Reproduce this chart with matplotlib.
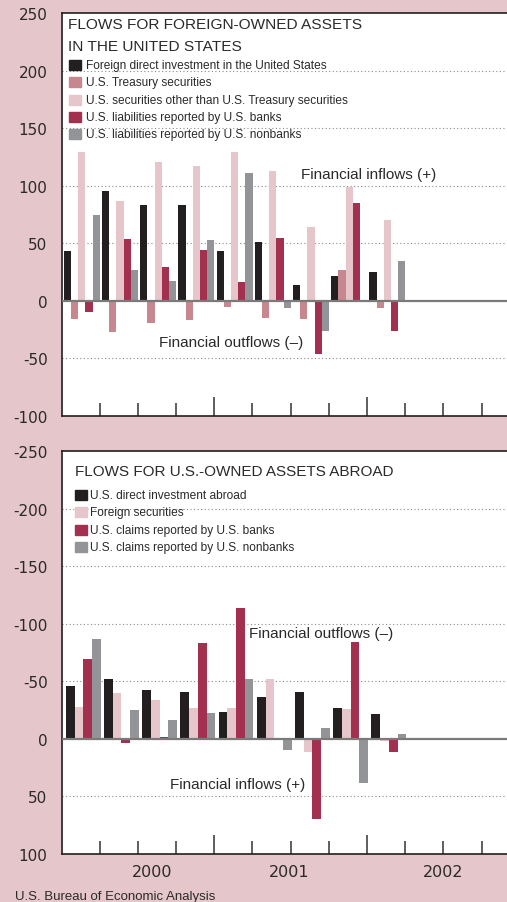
import numpy as np
import matplotlib
matplotlib.use("Agg")
import matplotlib.pyplot as plt
from matplotlib.patches import Rectangle

# quarterly flows, billions of dollars (2000Q1 .. 2002Q1)
quarters = ["2000Q1", "2000Q2", "2000Q3", "2000Q4",
            "2001Q1", "2001Q2", "2001Q3", "2001Q4", "2002Q1"]

# foreign-owned assets in the US (+ = inflow)
fdi_in_us = [43, 95, 83, 83, 43, 51, 14, 22, 25]
treasury_sec = [-16, -27, -19, -16.5, -5, -15, -15.5, 27, -6]
other_us_sec = [129, 87, 121, 117, 129, 113, 64, 99, 70]
liab_banks = [-10, 54, 29, 44, 16, 55, -46, 85, -26]
liab_nonbanks = [75, 27, 17, 53, 111, -6, -26, -1, 35]

# US-owned assets abroad (- = outflow)
usdia = [-46, -52, -42, -41, -23.5, -36, -41, -27, -22]
foreign_sec = [-28, -40, -34, -27, -27, -52, 11, -25.5, 2]
claims_banks = [-69, 4, -2, -83.5, -114, -0.5, 70, -84, 11]
claims_nonbanks = [-87, -25, -16.5, -22.6, -52, 10, -9, 38, -4]

top_labels = ["Foreign direct investment in the United States",
              "U.S. Treasury securities",
              "U.S. securities other than U.S. Treasury securities",
              "U.S. liabilities reported by U.S. banks",
              "U.S. liabilities reported by U.S. nonbanks"]
bottom_labels = ["U.S. direct investment abroad",
                 "Foreign securities",
                 "U.S. claims reported by U.S. banks",
                 "U.S. claims reported by U.S. nonbanks"]
years = ["2000", "2001", "2002"]
year_x = [2.37, 5.96, 10.0]

BLACK = "#231f20"
TXT = "#2a2a2a"
TREAS = "#c6878f"
OTHER = "#e7c6cb"
BANKS = "#a3304f"
NONBK = "#929497"
BG = "#e5c6ca"

NARROW = ["Liberation Sans Narrow", "Liberation Sans", "DejaVu Sans"]
W, H = 507, 903


def setup_axes(ax, ylo, yhi, step, invert=False):
    ax.set_xlim(0, 12)
    ax.set_ylim(ylo, yhi)
    if invert:
        ax.invert_yaxis()
    ax.set_facecolor("white")
    for s in ["top", "bottom", "left"]:
        ax.spines[s].set_color(BLACK)
        ax.spines[s].set_linewidth(1.2)
    ax.spines["right"].set_visible(False)
    ticks = np.arange(ylo, yhi + 1, step)
    ax.set_yticks(ticks)
    ax.set_yticklabels([f"{int(t)}" for t in ticks], fontsize=11,
                       family="DejaVu Sans", color=TXT)
    ax.tick_params(axis="y", length=0, pad=10)
    for t in ticks:
        if t != 0 and t not in (ylo, yhi):
            ax.axhline(t, color="#8a8a8a", lw=0.8, ls=(0, (1, 2.2)), zorder=0)
    ax.axhline(0, color="#7a7a7a", lw=1.6, zorder=3)
    ax.set_xticks([4, 8])
    ax.set_xticks([1, 2, 3, 5, 6, 7, 9, 10, 11], minor=True)
    ax.tick_params(axis="x", which="major", direction="in", length=13.5,
                   width=1.1, color="#333333", labelbottom=False)
    ax.tick_params(axis="x", which="minor", direction="in", length=9.3,
                   width=1.1, color="#333333", labelbottom=False)


def legend_block(ax, x_box, x_txt, rows_px, labels, colors, ax_top_px):
    for ypx, lab, col in zip(rows_px, labels, colors):
        yf = (ax_top_px - ypx) / 403.0
        ax.add_patch(Rectangle((x_box, yf - 0.0125), 0.026, 0.025,
                               transform=ax.transAxes, color=col, clip_on=False, zorder=5))
        ax.text(x_txt, yf, lab, transform=ax.transAxes, fontsize=8.55, family=NARROW,
                color=TXT, va="center", ha="left", zorder=5)


fig = plt.figure(figsize=(W / 100, H / 100), dpi=100, facecolor=BG)
left = 61.5 / W
width = 12 * 38.2 / W
ax1 = fig.add_axes([left, (H - 417) / H, width, 403 / H])
ax2 = fig.add_axes([left, (H - 855) / H, width, 403 / H])

x = np.arange(len(quarters))

# top panel
setup_axes(ax1, -100, 250, 50)
bw = 0.188
series_top = [fdi_in_us, treasury_sec, other_us_sec, liab_banks, liab_nonbanks]
cols_top = [BLACK, TREAS, OTHER, BANKS, NONBK]
for k, (vals, c) in enumerate(zip(series_top, cols_top)):
    ax1.bar(x + 0.53 + (k - 2) * bw, vals, width=bw, color=c, zorder=2)

ax1.text(0.0142, (417 - 25) / 403, "FLOWS FOR FOREIGN-OWNED ASSETS", transform=ax1.transAxes,
         fontsize=11.1, family=NARROW, color=TXT, va="center")
ax1.text(0.0142, (417 - 47) / 403, "IN THE UNITED STATES", transform=ax1.transAxes,
         fontsize=11.1, family=NARROW, color=TXT, va="center")
legend_block(ax1, 0.0164, 0.0535, [66, 83, 101, 118, 135], top_labels, cols_top, 417)
ax1.text(6.27, 110, "Financial inflows (+)", fontsize=11, family=NARROW, color=TXT, va="center")
ax1.text(2.55, -36, "Financial outflows (\u2013)", fontsize=11, family=NARROW, color=TXT, va="center")

# bottom panel
setup_axes(ax2, -250, 100, 50, invert=True)
bw2 = 0.228
series_bot = [usdia, foreign_sec, claims_banks, claims_nonbanks]
cols_bot = [BLACK, OTHER, BANKS, NONBK]
for k, (vals, c) in enumerate(zip(series_bot, cols_bot)):
    ax2.bar(x + 0.57 + (k - 1.5) * bw2, vals, width=bw2, color=c, zorder=2)

ax2.text(0.0295, (855 - 472) / 403, "FLOWS FOR U.S.-OWNED ASSETS ABROAD", transform=ax2.transAxes,
         fontsize=11.0, family=NARROW, color=TXT, va="center")
legend_block(ax2, 0.0295, 0.0618, [496, 513, 531, 548], bottom_labels, cols_bot, 855)
ax2.text(4.91, -92, "Financial outflows (\u2013)", fontsize=11, family=NARROW, color=TXT, va="center")
ax2.text(2.84, 39, "Financial inflows (+)", fontsize=11, family=NARROW, color=TXT, va="center")

# year labels below the bottom panel
for yx, yl in zip(year_x, years):
    ax2.text(yx, -(873 - 855) / 403, yl, transform=ax2.get_xaxis_transform(), fontsize=11.5,
             family="DejaVu Sans", color=TXT, ha="center", va="center")

fig.text(15 / W, (H - 897) / H, "U.S. Bureau of Economic Analysis", fontsize=9.5,
         family=NARROW, color=TXT, va="center", ha="left")

fig.savefig("out.png", dpi=100, facecolor=BG)
